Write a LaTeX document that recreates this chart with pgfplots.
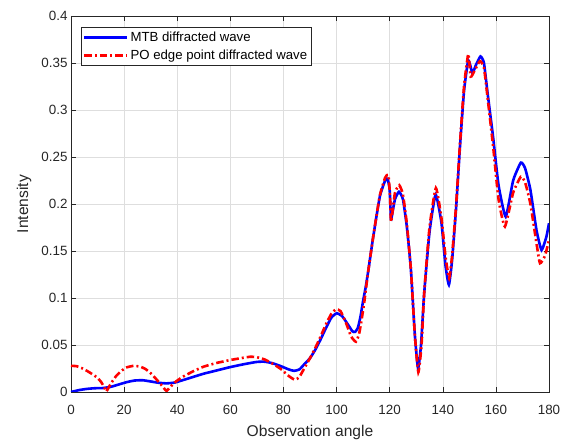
\documentclass[border=0pt]{standalone}
\usepackage{pgfplots}
\pgfplotsset{compat=1.18}
\usepackage{fontspec}
\setmainfont{Liberation Sans}
\definecolor{axgray}{rgb}{0.15,0.15,0.15}
\definecolor{gridgray}{rgb}{0.87,0.87,0.87}

\pgfplotstableread{
x y
0 0.0000
3 0.0020
6 0.0033
9 0.0040
12 0.0042
15 0.0055
18 0.0080
21 0.0105
24 0.0122
27 0.0125
30 0.0112
33 0.0098
36 0.0092
39 0.0100
42 0.0125
46 0.0160
50 0.0195
55 0.0230
60 0.0265
65 0.0295
70 0.0320
73 0.0322
76 0.0305
79 0.0275
82 0.0240
84 0.0225
86 0.0240
88 0.0300
90 0.0360
92 0.0450
94 0.0560
96 0.0680
98 0.0790
100 0.0837
102 0.0810
104 0.0730
106 0.0645
107 0.0640
108 0.0680
109 0.0800
110 0.0970
111 0.1120
112 0.1300
113.8 0.1650
116.3 0.2080
118.3 0.2250
119.2 0.2270
120 0.2150
120.5 0.1840
121 0.1900
122 0.2050
123.5 0.2130
125 0.2050
126.5 0.1750
128 0.1300
129.5 0.0600
130.7 0.0250
131.8 0.0500
133 0.1050
135 0.1700
137.3 0.2100
139.5 0.1800
141 0.1350
142.3 0.1140
143.5 0.1400
145 0.1950
146.5 0.2620
148 0.3200
149.5 0.3520
150.3 0.3480
151.2 0.3390
152.5 0.3480
154.2 0.3570
155.5 0.3500
157 0.3150
159 0.2700
161 0.2200
163.7 0.1865
166.5 0.2250
169.4 0.2440
171 0.2380
173 0.2150
175.3 0.1720
177.2 0.1510
179 0.1650
180 0.1795
}\mtb

\pgfplotstableread{
x y
0 0.0278
2 0.0275
4 0.0255
6 0.0225
8 0.0190
10 0.0150
11.5 0.0100
12.5 0.0050
13.3 0.0005
14.2 0.0050
15.5 0.0110
17 0.0170
19 0.0225
21 0.0262
23.5 0.0278
26 0.0270
28 0.0245
30 0.0200
32 0.0140
34 0.0075
35.3 0.0030
36 0.0012
37 0.0040
39 0.0100
42 0.0160
46 0.0220
50 0.0270
55 0.0310
60 0.0340
64 0.0360
67.5 0.0375
70 0.0370
73 0.0345
76 0.0300
79 0.0245
82 0.0170
84.3 0.0130
86 0.0160
88 0.0260
90 0.0360
92 0.0470
94 0.0590
96 0.0720
98 0.0830
99.8 0.0880
101.5 0.0860
103.5 0.0740
105.5 0.0590
107.3 0.0535
108.5 0.0620
109.5 0.0780
110.5 0.0970
112 0.1300
113.8 0.1650
116.3 0.2090
118.3 0.2280
119.5 0.2310
120.1 0.2100
120.5 0.1810
121 0.1900
122 0.2120
123.6 0.2200
125 0.2100
126.5 0.1780
128 0.1300
129.5 0.0600
130.8 0.0210
132 0.0500
133 0.1050
135 0.1750
137.4 0.2170
139.5 0.1850
141 0.1450
142.4 0.1210
143.5 0.1450
145 0.1980
146.5 0.2650
148 0.3250
149.6 0.3596
150.5 0.3355
152 0.3420
154 0.3520
155.5 0.3450
157 0.3100
159 0.2600
161 0.2050
163.4 0.1760
166.5 0.2120
169.4 0.2290
171 0.2230
173 0.2000
175.3 0.1580
176.6 0.1370
178.5 0.1450
180 0.1620
}\po

\begin{document}
\begin{tikzpicture}
\begin{axis}[
  name=ax,
  scale only axis,
  width=478bp, height=376bp,
  xmin=0, xmax=180, ymin=0, ymax=0.4,
  xtick={0,20,40,60,80,100,120,140,160,180},
  ytick={0,0.05,0.1,0.15,0.2,0.25,0.3,0.35,0.4},
  scaled y ticks=false,
  /pgf/number format/assume math mode=true,
  /pgf/number format/fixed,
  /pgf/number format/precision=2,
  tick align=inside,
  major tick length=4.8bp,
  tick style={axgray, line width=0.5bp},
  axis line style={axgray, line width=0.5bp},
  grid=major,
  major grid style={gridgray, line width=0.5bp},
  tick label style={font=\fontsize{13.4bp}{15bp}\selectfont, text=axgray},
  xticklabel style={yshift=-10bp},
  label style={font=\fontsize{15.6bp}{17bp}\selectfont, text=axgray},
  xlabel={Observation angle},
  ylabel={Intensity},
  xlabel style={at={(axis description cs:0.5,-0.108)}, anchor=center},
  ylabel style={at={(axis description cs:-0.0983,0.5)}, anchor=center},
  legend cell align=left,
  legend style={
    at={(axis description cs:0.0203,0.9707)}, anchor=north west,
    draw=axgray, line width=0.5bp, fill=white,
    font=\fontsize{13.2bp}{15bp}\selectfont,
    text=black,
    inner xsep=2bp, inner ysep=2.5bp,
    row sep=3bp,
  },
  legend image code/.code={\draw[#1] (0bp,0bp) -- (43bp,0bp);},
]
\addplot[blue, line width=2.6bp, smooth, tension=0.3] table[x=x,y=y] {\mtb};
\addlegendentry{MTB diffracted wave}
\addplot[red, line width=2.6bp, smooth, tension=0.3, dash pattern=on 7.5bp off 3bp on 2bp off 3bp] table[x=x,y=y] {\po};
\addlegendentry{PO edge point diffracted wave}
\end{axis}
\path ([shift={(-71bp,-48bp)}]ax.south west) rectangle ([shift={(21bp,16bp)}]ax.north east);
\end{tikzpicture}
\end{document}
